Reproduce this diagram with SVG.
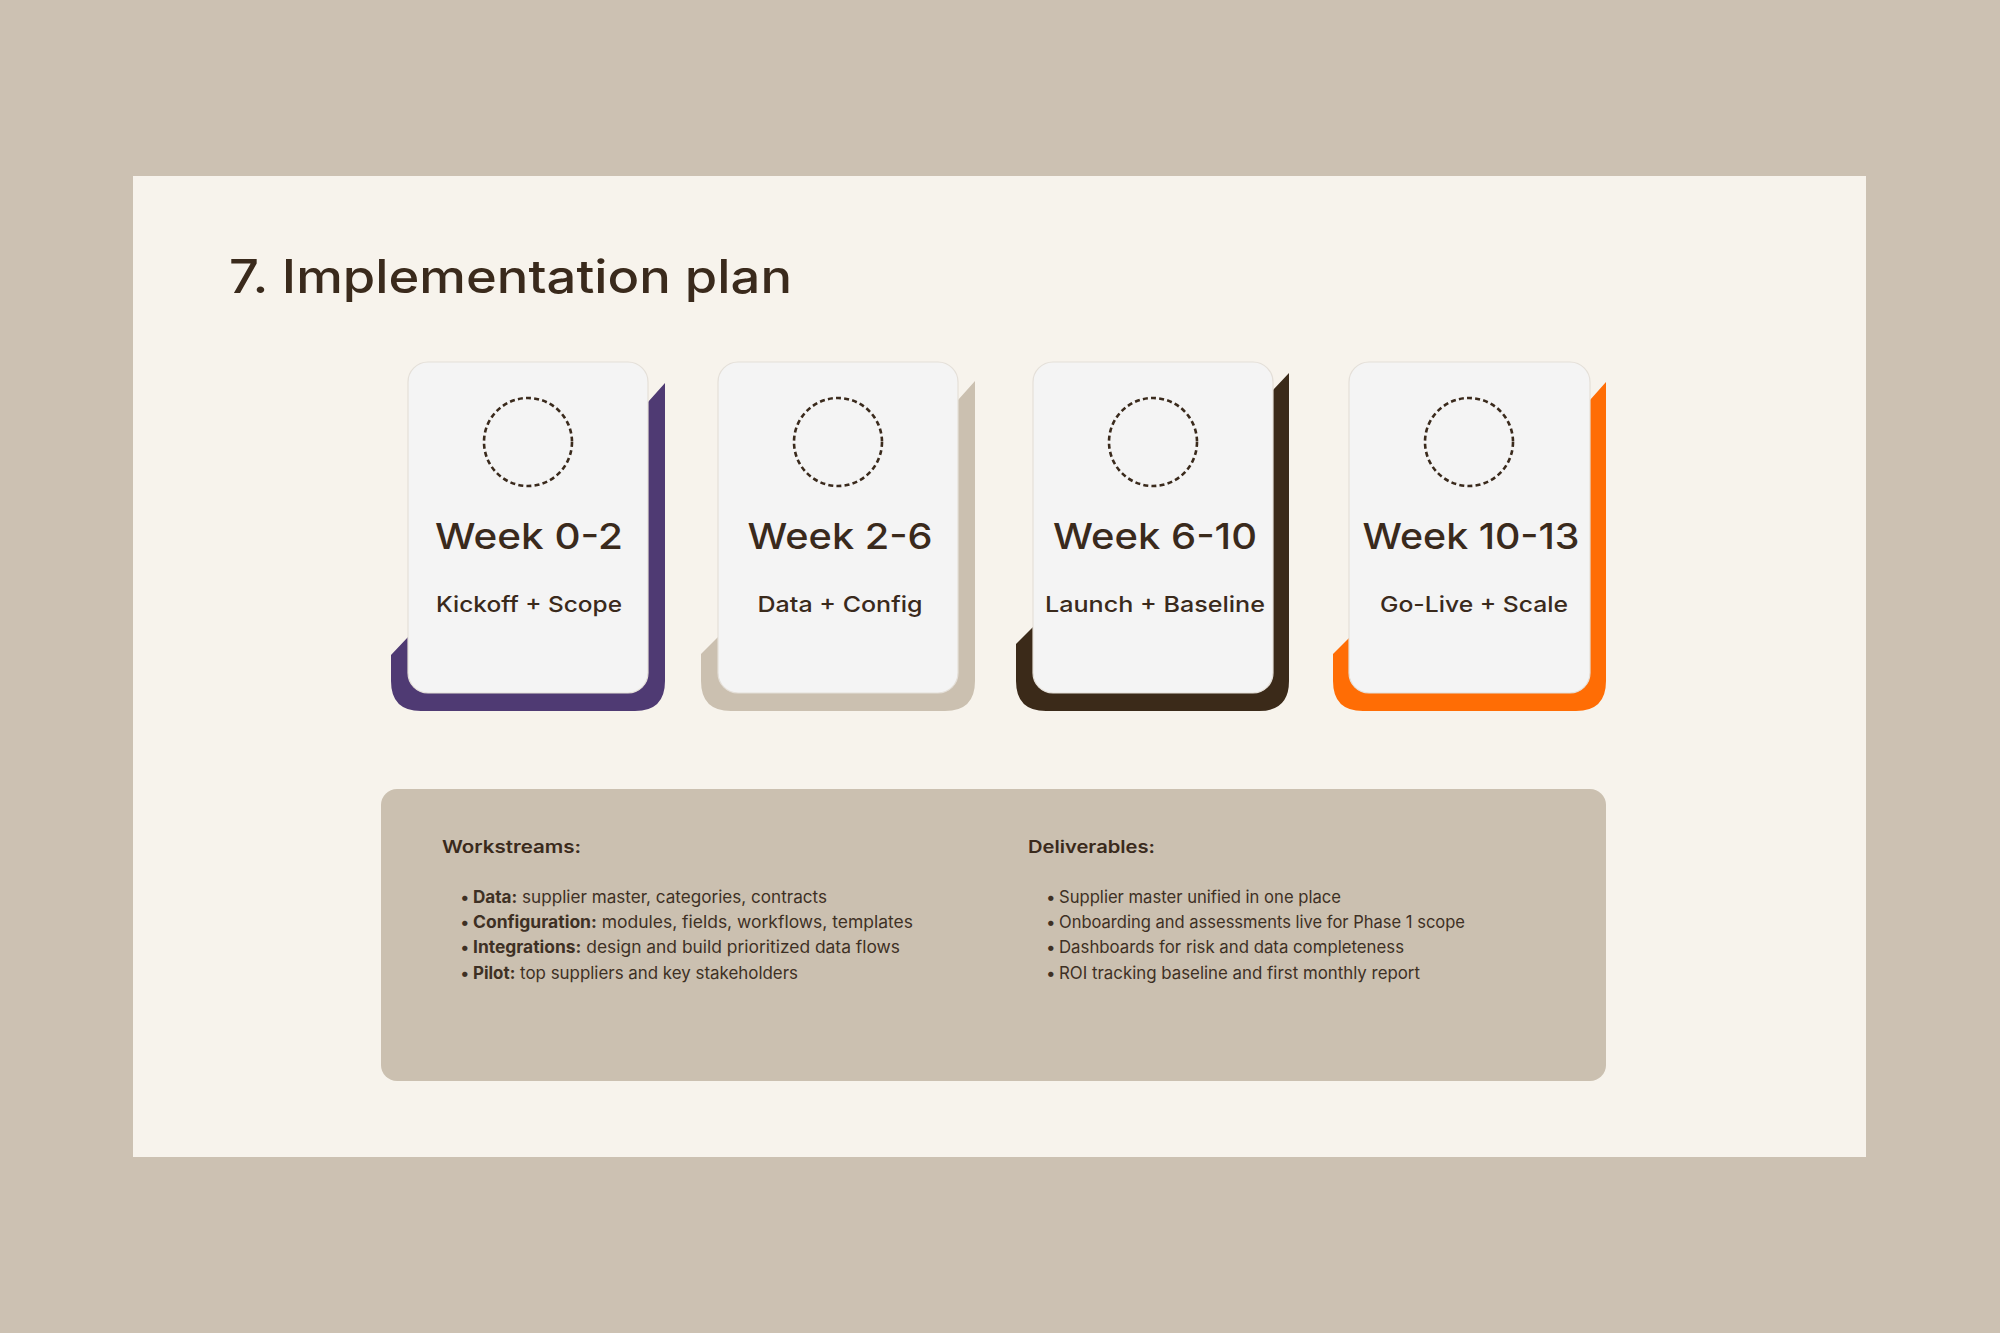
<svg xmlns="http://www.w3.org/2000/svg" width="2000" height="1333" viewBox="0 0 2000 1333">
<style>
.t{font-family:Inter,"Liberation Sans",Arial,sans-serif;fill:#3A2A1C}
.title{font-size:46px;font-weight:500}
.wk{font-size:36px;font-weight:500;text-anchor:middle}
.sub{font-size:22px;font-weight:500;text-anchor:middle}
.head{font-size:17px;font-weight:600}
.li{font-size:17px;font-weight:400;fill:#3E3024}
.b{font-weight:700}
.card{fill:#F4F4F4;stroke:#E4DFD8;stroke-width:1.2}
.ring{fill:none;stroke:#3A2A1C;stroke-width:2.6;stroke-dasharray:5 3.2}
</style>
<rect width="2000" height="1333" fill="#CCC1B2"/>
<rect x="133" y="176" width="1733" height="981" fill="#F7F3EC"/>
<text class="t title" x="229" y="293" textLength="563" lengthAdjust="spacingAndGlyphs">7. Implementation plan</text>

<g id="card1">
<path d="M408 402 L648 402 L665 383 L665 681 Q665 711 635 711 L421 711 Q391 711 391 681 L391 655 L408 637 Z" fill="#4F3A73"/>
<rect class="card" x="408" y="362" width="240" height="331" rx="20"/>
<circle class="ring" cx="528" cy="442" r="44"/>
<text class="t wk" x="529" y="549" textLength="188" lengthAdjust="spacingAndGlyphs">Week 0-2</text>
<text class="t sub" x="529" y="612" textLength="186" lengthAdjust="spacingAndGlyphs">Kickoff + Scope</text>
</g>

<g id="card2">
<path d="M718 400 L958 400 L975 381 L975 681 Q975 711 945 711 L731 711 Q701 711 701 681 L701 654 L718 637 Z" fill="#CBC0B0"/>
<rect class="card" x="718" y="362" width="240" height="331" rx="20"/>
<circle class="ring" cx="838" cy="442" r="44"/>
<text class="t wk" x="840" y="549" textLength="185" lengthAdjust="spacingAndGlyphs">Week 2-6</text>
<text class="t sub" x="840" y="612" textLength="165" lengthAdjust="spacingAndGlyphs">Data + Config</text>
</g>

<g id="card3">
<path d="M1033 390 L1273 390 L1289 373 L1289 681 Q1289 711 1259 711 L1046 711 Q1016 711 1016 681 L1016 644 L1033 627 Z" fill="#3B2A19"/>
<rect class="card" x="1033" y="362" width="240" height="331" rx="20"/>
<circle class="ring" cx="1153" cy="442" r="44"/>
<text class="t wk" x="1155" y="549" textLength="204" lengthAdjust="spacingAndGlyphs">Week 6-10</text>
<text class="t sub" x="1155" y="612" textLength="220" lengthAdjust="spacingAndGlyphs">Launch + Baseline</text>
</g>

<g id="card4">
<path d="M1349 400 L1590 400 L1606 382 L1606 681 Q1606 711 1576 711 L1363 711 Q1333 711 1333 681 L1333 654 L1349 638 Z" fill="#FF6D05"/>
<rect class="card" x="1349" y="362" width="241" height="331" rx="20"/>
<circle class="ring" cx="1469" cy="442" r="44"/>
<text class="t wk" x="1471" y="549" textLength="217" lengthAdjust="spacingAndGlyphs">Week 10-13</text>
<text class="t sub" x="1474" y="612" textLength="188" lengthAdjust="spacingAndGlyphs">Go-Live + Scale</text>
</g>

<g id="panel">
<rect x="381" y="789" width="1225" height="292" rx="16" fill="#CBC0B0"/>
<text class="t head" x="442" y="853" textLength="139" lengthAdjust="spacingAndGlyphs">Workstreams:</text>
<text x="460" y="903" class="t li">•</text>
<text x="473" y="903" class="t li" textLength="354" lengthAdjust="spacingAndGlyphs"><tspan class="b">Data:</tspan> supplier master, categories, contracts</text>
<text x="460" y="928" class="t li">•</text>
<text x="473" y="928" class="t li" textLength="440" lengthAdjust="spacingAndGlyphs"><tspan class="b">Configuration:</tspan> modules, fields, workflows, templates</text>
<text x="460" y="953" class="t li">•</text>
<text x="473" y="953" class="t li" textLength="427" lengthAdjust="spacingAndGlyphs"><tspan class="b">Integrations:</tspan> design and build prioritized data flows</text>
<text x="460" y="979" class="t li">•</text>
<text x="473" y="979" class="t li" textLength="325" lengthAdjust="spacingAndGlyphs"><tspan class="b">Pilot:</tspan> top suppliers and key stakeholders</text>

<text class="t head" x="1028" y="853" textLength="127" lengthAdjust="spacingAndGlyphs">Deliverables:</text>
<text x="1046" y="903" class="t li">•</text>
<text x="1059" y="903" class="t li" textLength="282" lengthAdjust="spacingAndGlyphs">Supplier master unified in one place</text>
<text x="1046" y="928" class="t li">•</text>
<text x="1059" y="928" class="t li" textLength="406" lengthAdjust="spacingAndGlyphs">Onboarding and assessments live for Phase 1 scope</text>
<text x="1046" y="953" class="t li">•</text>
<text x="1059" y="953" class="t li" textLength="345" lengthAdjust="spacingAndGlyphs">Dashboards for risk and data completeness</text>
<text x="1046" y="979" class="t li">•</text>
<text x="1059" y="979" class="t li" textLength="361" lengthAdjust="spacingAndGlyphs">ROI tracking baseline and first monthly report</text>
</g>
</svg>
